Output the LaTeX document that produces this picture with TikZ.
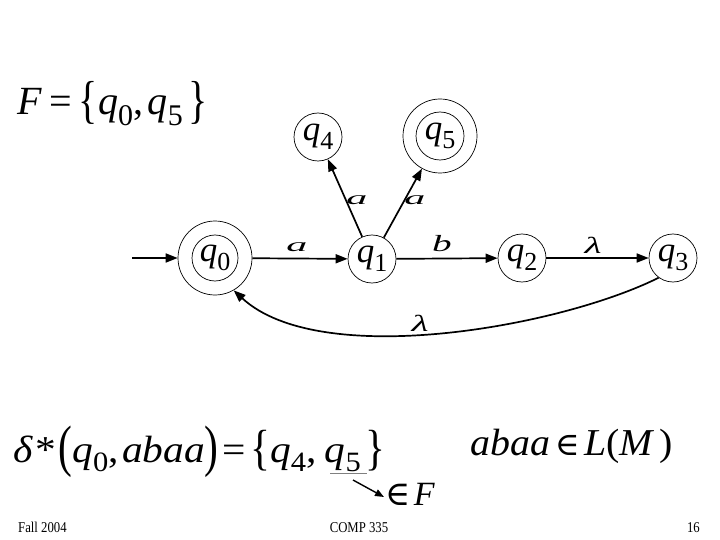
\documentclass[tikz,border=0pt]{standalone}
\usepackage{fontspec}
\setmainfont{Liberation Serif}
\newfontfamily\dvs{DejaVu Serif}
\usetikzlibrary{arrows.meta}
\newcommand\qs[2]{\textit{q}\raisebox{-0.26em}{\fontsize{#2}{#2}\selectfont #1}}
\newcommand\bigd[3]{\raisebox{#3}{\scalebox{1}[#2]{#1}}}
\newcommand\elem[1]{{\fontsize{#1}{#1}\selectfont\dvs ∈}}
\begin{document}
\begin{tikzpicture}[x=1pt,y=-1pt,
  st/.style={circle,draw,line width=0.7pt,minimum size=48pt,inner sep=0pt,font=\fontsize{35}{35}\selectfont},
  acc/.style={st,minimum size=74pt},
  inner/.style={line width=0.7pt},
  tr/.style={line width=1.7pt,-{Triangle[length=12pt,width=9pt]}},
  lab/.style={font=\fontsize{29}{29}\selectfont\itshape,inner sep=0pt},
  big/.style={font=\fontsize{38}{38}\selectfont,inner sep=0pt,anchor=base west},
  foot/.style={font=\fontsize{15}{15}\selectfont,inner sep=0pt}]
\useasboundingbox (0,0) rectangle (720,540);
% states
\node[acc] (q0) at (215,258) {\qs{0}{26}};
\draw[inner] (q0.center) circle[radius=23];
\node[st] (q1) at (372,259) {\qs{1}{26}};
\node[st] (q2) at (522,258) {\qs{2}{26}};
\node[st] (q3) at (673,258) {\qs{3}{26}};
\node[st] (q4) at (318,137) {\qs{4}{26}};
\node[acc] (q5) at (440,136) {\qs{5}{26}};
\draw[inner] (q5.center) circle[radius=24];
% transitions
\coordinate (start) at (132,258);
\draw[tr] (start) -- (q0);
\draw[tr] (q0) -- (q1);
\draw[tr] (q1) -- (q2);
\draw[tr] (q2) -- (q3);
\draw[tr] (q1) -- (q4);
\draw[tr] (q1) -- (q5);
\draw[tr] (q3.234) .. controls (560,327) and (320,370) .. (q0.-60);
% labels
\node[lab] (la1) at (297,247) {\scalebox{1.45}[0.65]{a}};
\node[lab] (lb) at (442,244) {\scalebox{1.35}[0.8]{b}};
\node[lab] (ll1) at (593,245) {\scalebox{1.35}[0.8]{λ}};
\node[lab] (la2) at (357,200) {\scalebox{1.45}[0.65]{a}};
\node[lab] (la3) at (415,200) {\scalebox{1.45}[0.65]{a}};
\node[lab] (ll2) at (420,323) {\scalebox{1.35}[0.8]{λ}};
% formulas
\node[big,font=\fontsize{40}{40}\selectfont] (fset) at (17,115)
  {\textit{F}\hspace{0.18em}=\hspace{0.18em}\bigd{\{}{1.3}{-3pt}\qs{0}{30},\hspace{0.12em}\qs{5}{30}\hspace{0.15em}\bigd{\}}{1.3}{-3pt}};
\node[big] (delta) at (13,462)
  {\scalebox{1.09}[1]{\textit{δ}\hspace{0.06em}*\hspace{0.06em}\bigd{(}{1.5}{-3pt}\qs{0}{28},\hspace{0.08em}\textit{abaa}\bigd{)}{1.5}{-3pt}\hspace{0.08em}=\hspace{0.12em}\bigd{\{}{1.3}{-2pt}\qs{4}{28},\hspace{0.2em}\qs{5}{28}\hspace{0.12em}\bigd{\}}{1.3}{-2pt}}};
\draw[line width=0.7pt,gray] (330,473) -- (367,473);
\coordinate (u1) at (353,480);
\coordinate (u2) at (384,497);
\draw[line width=1.4pt,-{Triangle[length=9pt,width=7pt]}] (u1) -- (u2);
\node[big,font=\fontsize{34}{34}\selectfont] (inF) at (385,505) {\elem{34}\hspace{0.1em}\textit{F}};
\node[big] (lang) at (470,455) {\scalebox{1.05}[1]{\textit{abaa}\hspace{0.12em}\elem{32}\hspace{0.12em}\textit{L}(\textit{M}\hspace{0.12em})}};
% footer
\node[foot,anchor=base west] (f1) at (18,532) {\scalebox{0.85}[1]{Fall 2004}};
\node[foot,anchor=base] (f2) at (359,532) {\scalebox{0.85}[1]{COMP 335}};
\node[foot,anchor=base east] (f3) at (700,532) {\scalebox{0.85}[1]{16}};
\end{tikzpicture}
\end{document}
